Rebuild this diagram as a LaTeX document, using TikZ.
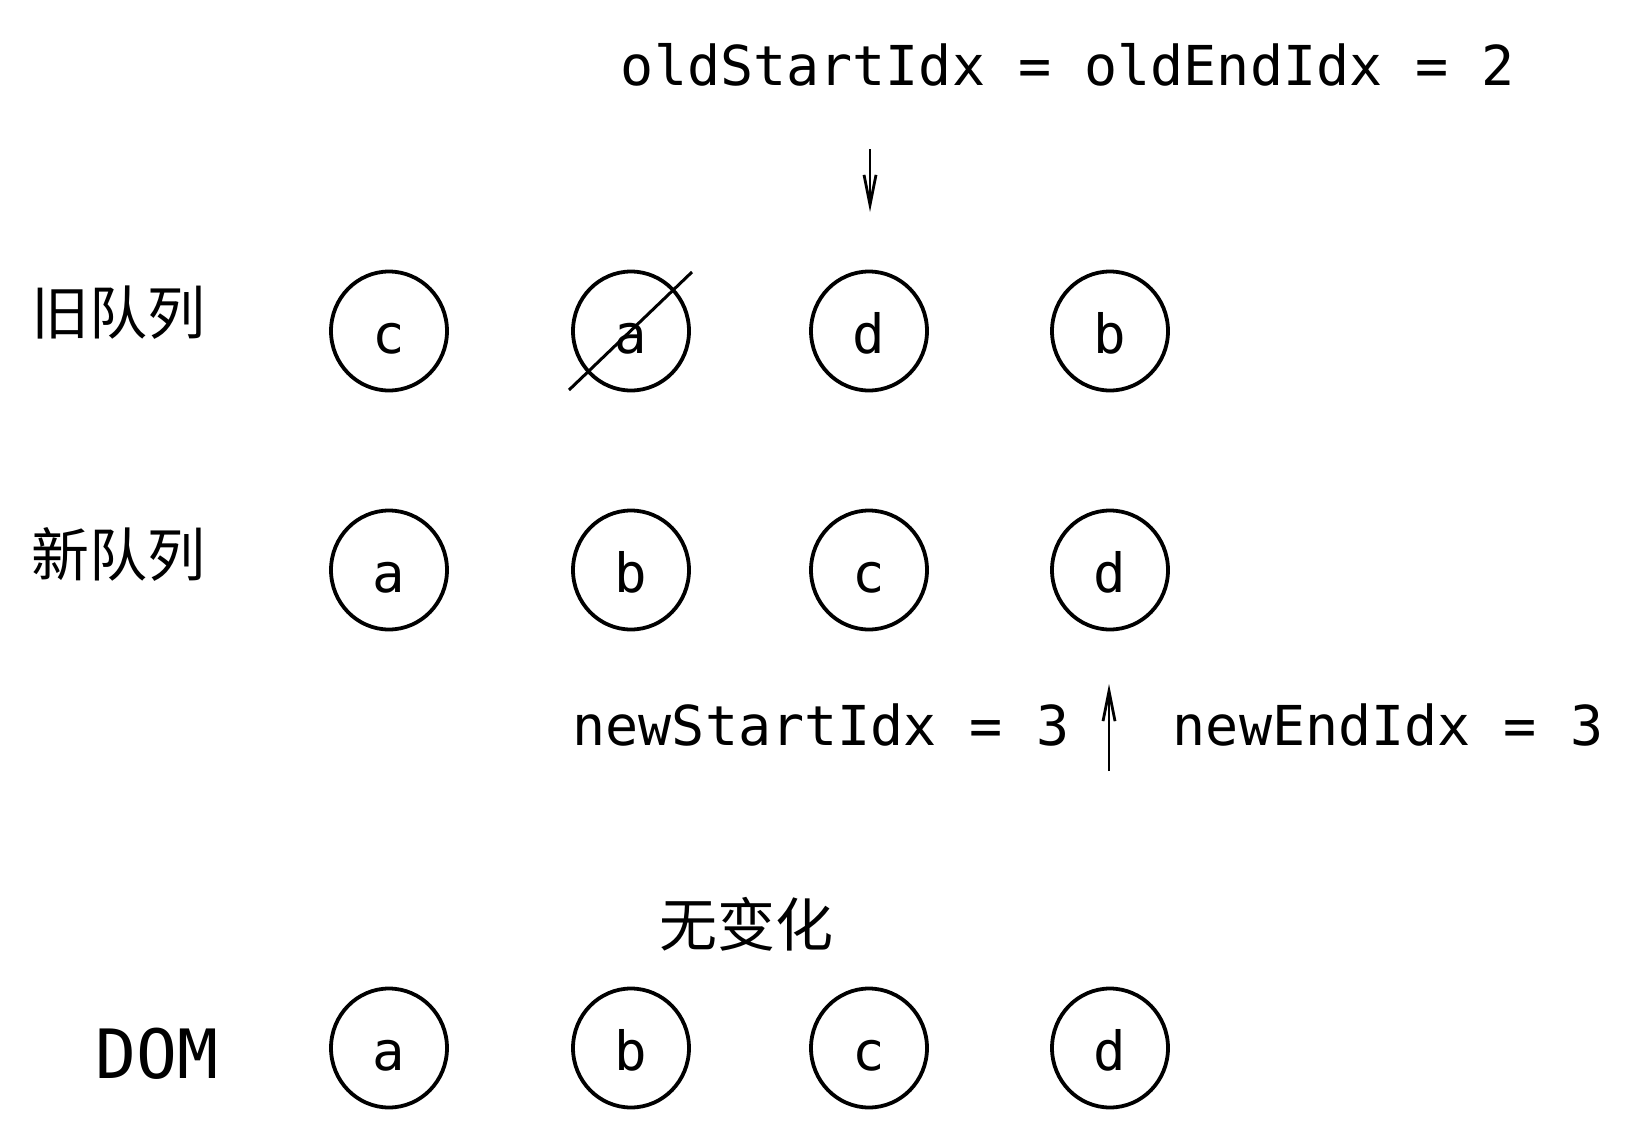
\documentclass[tikz,border=0pt]{standalone}
\usepackage{fontspec}
\setmonofont{DejaVu Sans Mono}
\newfontfamily\cjk{Noto Sans CJK SC}
\usetikzlibrary{shapes.geometric,arrows.meta}
\begin{document}
\begin{tikzpicture}[x=0.5pt,y=-0.5pt,
  item/.style={ellipse,draw,line width=1.9pt,minimum width=58pt,minimum height=59.5pt,inner sep=0pt,text height=22pt,text depth=0pt,font=\ttfamily\fontsize{27}{27}\selectfont},
  lbl/.style={inner sep=0pt,font=\ttfamily\fontsize{27.5}{27.5}\selectfont},
  cjklbl/.style={inner sep=0pt,font=\cjk\fontsize{29}{29}\selectfont},
  arr/.style={line width=1.4pt,-{Straight Barb[length=15pt,width=6pt]}},
  strike/.style={line width=1.5pt}]
\useasboundingbox (0,0) rectangle (1638,1140);
% labels
\node[lbl] (oldidx) at (1068,65) {oldStartIdx = oldEndIdx = 2};
\node[lbl] (nsidx) at (821,725) {newStartIdx = 3};
\node[lbl] (neidx) at (1388,725) {newEndIdx = 3};
\node[lbl,font=\ttfamily\fontsize{34}{34}\selectfont] (dom) at (157,1054) {DOM};
\node[cjklbl] (oldq) at (119,313) {旧队列};
\node[cjklbl] (newq) at (119,554) {新队列};
\node[cjklbl] (nochg) at (746,924) {无变化};
% old row
\node[item] (o1) at (389,331) {c};
\node[item] (o2) at (631,331) {a};
\node[item] (o3) at (869,331) {d};
\node[item] (o4) at (1110,331) {b};
% new row
\node[item] (n1) at (389,570) {a};
\node[item] (n2) at (631,570) {b};
\node[item] (n3) at (869,570) {c};
\node[item] (n4) at (1110,570) {d};
% DOM row
\node[item] (d1) at (389,1048) {a};
\node[item] (d2) at (631,1048) {b};
\node[item] (d3) at (869,1048) {c};
\node[item] (d4) at (1110,1048) {d};
% strike through old a
\coordinate (s1) at (569,390);
\coordinate (s2) at (692,272);
\draw[strike] (s1) -- (s2);
% pointers
\coordinate (p1s) at (870,149);
\coordinate (p1e) at (870,212);
\draw[arr] (p1s) -- (p1e);
\coordinate (p2s) at (1109,771);
\coordinate (p2e) at (1109,684);
\draw[arr] (p2s) -- (p2e);
\end{tikzpicture}
\end{document}
